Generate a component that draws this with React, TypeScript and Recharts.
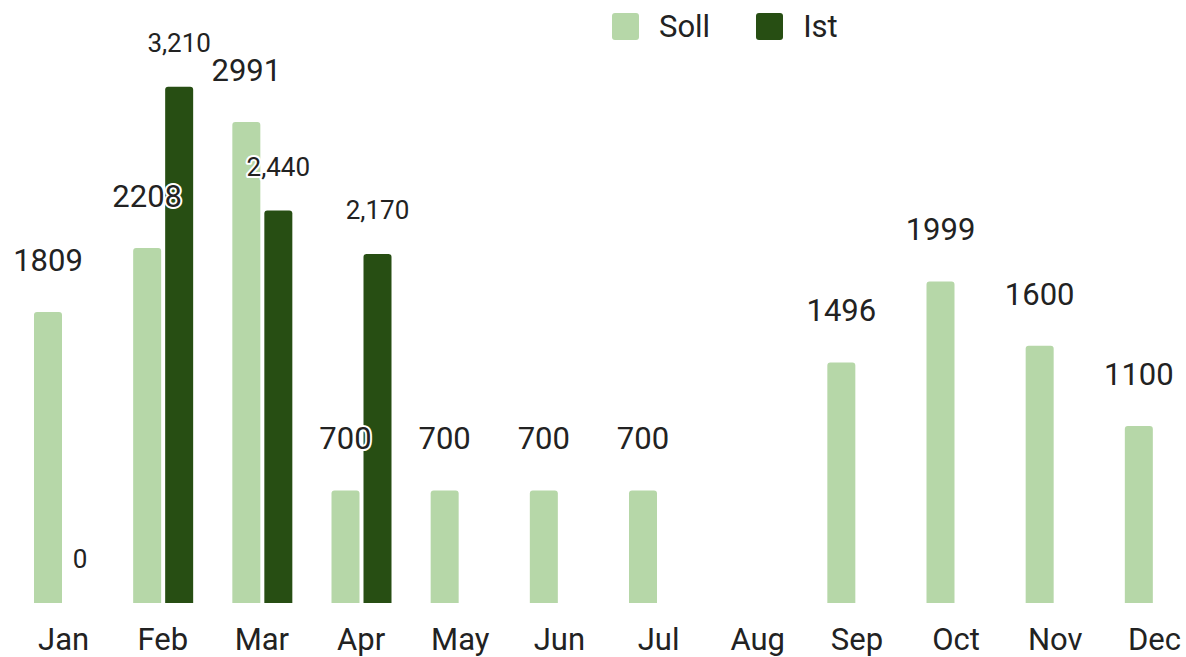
import React from "react";
import { BarChart, Bar, XAxis, YAxis, Legend, LabelList } from "recharts";

const MONTHS = ["Jan", "Feb", "Mar", "Apr", "May", "Jun", "Jul", "Aug", "Sep", "Oct", "Nov", "Dec"];
const SOLL = [1809, 2208, 2991, 700, 700, 700, 700, null, 1496, 1999, 1600, 1100];
const IST = [0, 3210, 2440, 2170, null, null, null, null, null, null, null, null];

const SOLL_COLOR = "#b6d7a8";
const IST_COLOR = "#274e13";
const TEXT_COLOR = "#222222";
const FONT = "Roboto, 'Noto Sans', sans-serif";

const chartData = MONTHS.map((month, i) => ({
  month,
  soll: SOLL[i],
  ist: IST[i],
}));

function makeLabel(lift: number, fontSize: number, withCommas: boolean) {
  return (props: any) => {
    const { x, y, width, height, value } = props;
    if (value === null || value === undefined) return null;
    const text = withCommas ? Number(value).toLocaleString("en-US") : String(value);
    // zero values get a hair-thin bar, so anchor on its bottom edge
    const top = Number(value) === 0 ? y + height : y;
    return (
      <text
        x={x + width / 2}
        y={top - lift}
        textAnchor="middle"
        fontSize={fontSize}
        fontFamily={FONT}
        fill={TEXT_COLOR}
        stroke="#ffffff"
        strokeWidth={4}
        strokeLinejoin="round"
        style={{ paintOrder: "stroke" }}
      >
        {text}
      </text>
    );
  };
}

function LegendBox() {
  const items = [
    { name: "Soll", color: SOLL_COLOR },
    { name: "Ist", color: IST_COLOR },
  ];
  return (
    <div style={{ display: "flex", alignItems: "center", fontFamily: FONT }}>
      {items.map((item, i) => (
        <div
          key={item.name}
          style={{ display: "flex", alignItems: "center", marginLeft: i === 0 ? 0 : 46 }}
        >
          <div
            style={{
              width: 27,
              height: 27,
              borderRadius: 3,
              background: item.color,
              marginRight: 20,
            }}
          />
          <span style={{ fontSize: 31, lineHeight: "27px", color: TEXT_COLOR }}>{item.name}</span>
        </div>
      ))}
    </div>
  );
}

export default function App() {
  return (
    <div
      style={{
        position: "absolute",
        left: 0,
        top: 0,
        width: 1186,
        height: 657,
        overflow: "hidden",
        background: "#ffffff",
      }}
    >
      <BarChart
        width={1204}
        height={657}
        data={chartData}
        margin={{ top: 24, right: 0, bottom: 0, left: 14 }}
        barSize={28}
        barGap={4}
        style={{ fontFamily: FONT }}
      >
        <XAxis
          dataKey="month"
          axisLine={false}
          tickLine={false}
          tickSize={6}
          tickMargin={19}
          height={54}
          interval={0}
          tick={{ fill: TEXT_COLOR, fontSize: 31, fontFamily: FONT }}
        />
        <YAxis hide domain={[0, 3600]} />
        <Legend
          verticalAlign="middle"
          wrapperStyle={{ left: 612, top: 13, width: "auto" }}
          content={() => <LegendBox />}
        />
        <Bar dataKey="soll" name="Soll" fill={SOLL_COLOR} radius={[3, 3, 0, 0]} isAnimationActive={false}>
          <LabelList dataKey="soll" content={makeLabel(41, 31, false)} />
        </Bar>
        <Bar
          dataKey="ist"
          name="Ist"
          fill={IST_COLOR}
          radius={[3, 3, 0, 0]}
          minPointSize={(v: any) => (v === 0 ? 0.01 : 0)}
          isAnimationActive={false}
        >
          <LabelList dataKey="ist" content={makeLabel(35, 26, true)} />
        </Bar>
      </BarChart>
    </div>
  );
}
